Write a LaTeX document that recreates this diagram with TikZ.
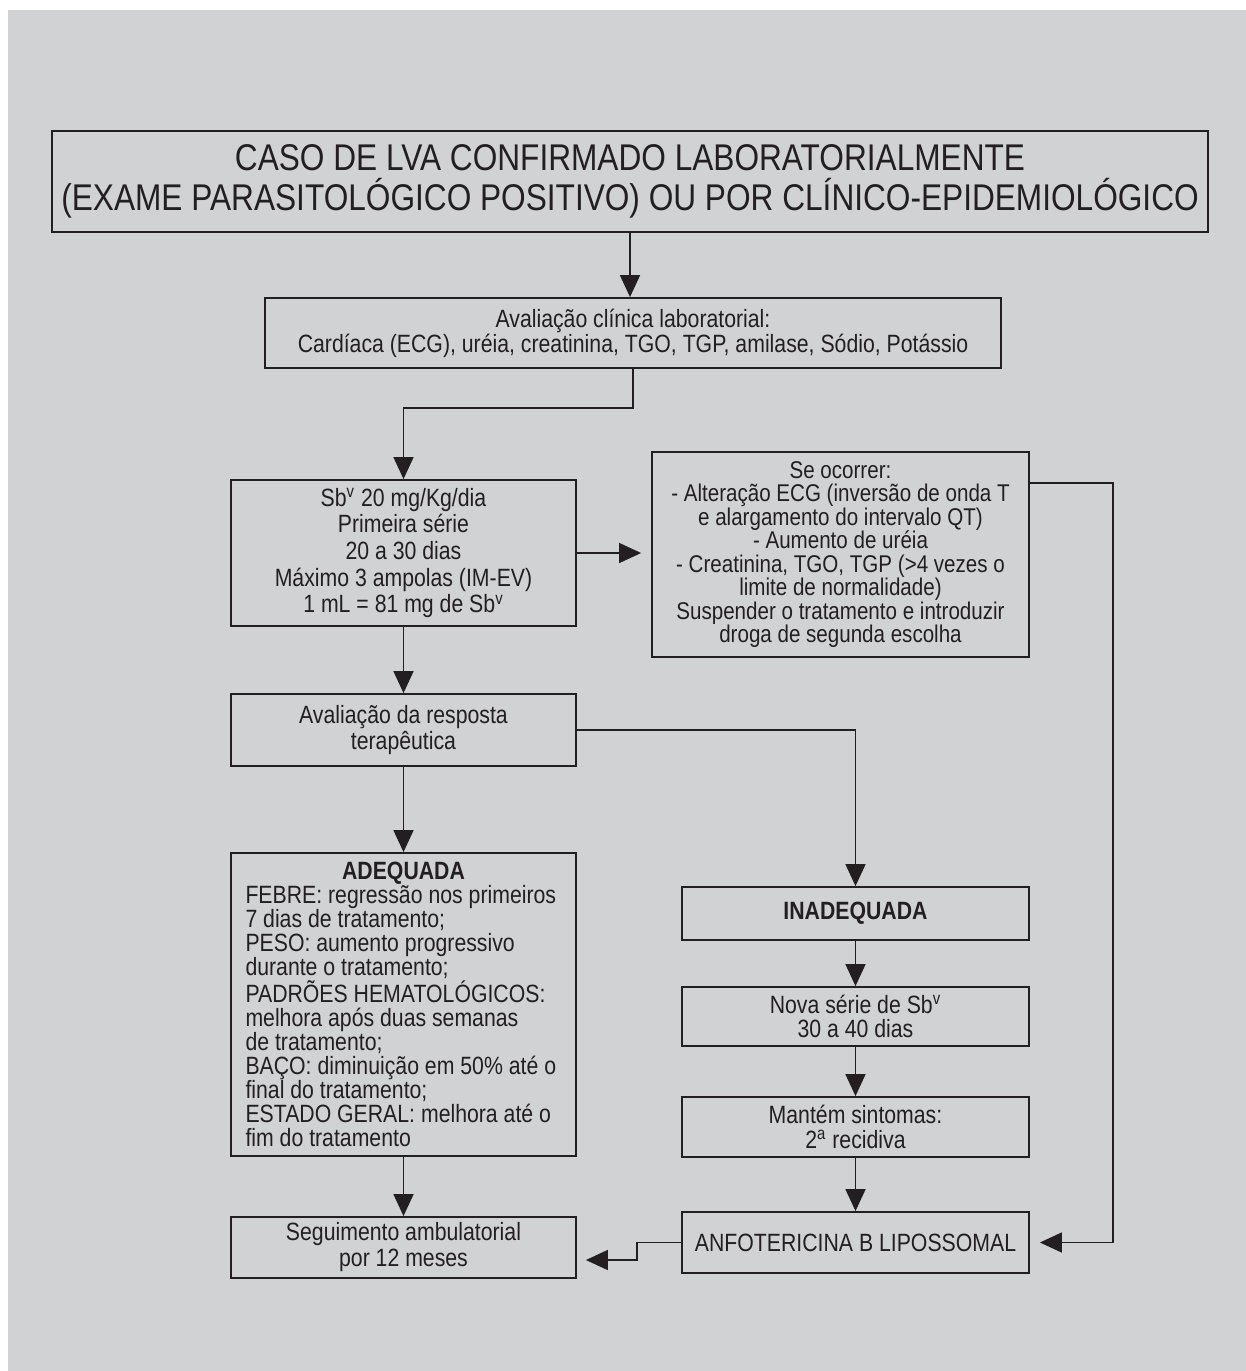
\documentclass[tikz,border=0pt]{standalone}
\usepackage{fontspec}
\setmainfont{Liberation Sans}[FakeStretch=0.85]
\usetikzlibrary{arrows.meta}
\definecolor{fundo}{RGB}{209,210,212}
\definecolor{traco}{RGB}{35,31,32}

\begin{document}
\begin{tikzpicture}[x=0.5pt,y=-0.5pt,
    caixa/.style={draw=traco,line width=0.9pt,inner sep=0pt,align=center,text=traco,
        font=\fontsize{12.5}{13}\selectfont},
    seta/.style={draw=traco,line width=0.8pt,-{Triangle[width=10pt,length=11pt]}}]
        \fill[white] (0,0) rectangle (1246,1371);
        \fill[fundo] (8,10) rectangle (1246,1371);
        \useasboundingbox (0,0) rectangle (1246,1371);

        \node[caixa,minimum width=578pt,minimum height=50.5pt,font=\fontsize{18.6}{20}\selectfont] (caso) at (630,181.5)
            {CASO DE LVA CONFIRMADO LABORATORIALMENTE\\(EXAME PARASITOLÓGICO POSITIVO) OU POR CLÍNICO-EPIDEMIOLÓGICO};
        \node[caixa,minimum width=368pt,minimum height=35pt,font=\fontsize{12.5}{12.5}\selectfont] (aval) at (633,333)
            {Avaliação clínica laboratorial:\\Cardíaca (ECG), uréia, creatinina, TGO, TGP, amilase, Sódio, Potássio};
        \node[caixa,minimum width=172.5pt,minimum height=73pt,font=\fontsize{12.5}{13.35}\selectfont] (sb) at (403.5,553)
            {Sb\textsuperscript{v} 20 mg/Kg/dia\\Primeira série\\20 a 30 dias\\Máximo 3 ampolas (IM-EV)\\1 mL = 81 mg de Sb\textsuperscript{v}};
        \node[caixa,minimum width=188.5pt,minimum height=102.5pt,font=\fontsize{12.1}{11.75}\selectfont] (alerta) at (840.5,554.5)
            {Se ocorrer:\\- Alteração ECG (inversão de onda T\\e alargamento do intervalo QT)\\- Aumento de uréia\\- Creatinina, TGO, TGP (>4 vezes o\\limite de normalidade)\\Suspender o tratamento e introduzir\\droga de segunda escolha};
        \node[caixa,minimum width=172.5pt,minimum height=36pt] (resp) at (403.5,730)
            {Avaliação da resposta\\terapêutica};
        \node[caixa,minimum width=172.5pt,minimum height=151.5pt,text width=158pt,align=flush left,
            font=\fontsize{12.5}{12}\selectfont] (adeq) at (403.5,1004.5)
            {\makebox[\hsize]{\textbf{ADEQUADA}}\\FEBRE: regressão nos primeiros\\7 dias de tratamento;\\PESO: aumento progressivo\\durante o tratamento;\\PADRÕES HEMATOLÓGICOS:\\melhora após duas semanas\\de tratamento;\\BAÇO: diminuição em 50\% até o\\final do tratamento;\\ESTADO GERAL: melhora até o\\fim do tratamento};
        \node[caixa,minimum width=172.5pt,minimum height=30.5pt] (seg) at (403.5,1247.5)
            {Seguimento ambulatorial\\por 12 meses};
        \node[caixa,minimum width=173.5pt,minimum height=26.5pt] (inad) at (855.5,913.5) {\textbf{INADEQUADA}};
        \node[caixa,minimum width=173.5pt,minimum height=29.5pt,font=\fontsize{12.5}{12}\selectfont] (nova) at (855.5,1016.5)
            {Nova série de Sb\textsuperscript{v}\\30 a 40 dias};
        \node[caixa,minimum width=173.5pt,minimum height=30pt,font=\fontsize{12.5}{12.5}\selectfont] (mant) at (855.5,1127)
            {Mantém sintomas:\\2\textsuperscript{a} recidiva};
        \node[caixa,minimum width=173.5pt,minimum height=30.5pt] (anf) at (855.5,1242.5) {ANFOTERICINA B LIPOSSOMAL};

        \draw[seta] (caso.south) -- (caso.south |- aval.north);
        \draw[seta] (aval.south) -- ++(0,39) -| (sb.north);
        \draw[seta,shorten >=5pt] (sb.east) -- (sb.east -| alerta.west);
        \draw[seta,shorten >=5pt] (alerta.east |- 0,483) -- (1113,483) |- (anf.east);
        \draw[seta] (sb.south) -- (resp.north);
        \draw[seta] (resp.east) -| (inad.north);
        \draw[seta] (resp.south) -- (adeq.north);
        \draw[seta] (adeq.south) -- (seg.north);
        \draw[seta] (inad.south) -- (nova.north);
        \draw[seta] (nova.south) -- (mant.north);
        \draw[seta] (mant.south) -- (anf.north);
        \draw[seta,shorten >=4.5pt] (anf.west) -- (anf.west -| 637,0) |- (seg.east |- 0,1260);
\end{tikzpicture}
\end{document}
